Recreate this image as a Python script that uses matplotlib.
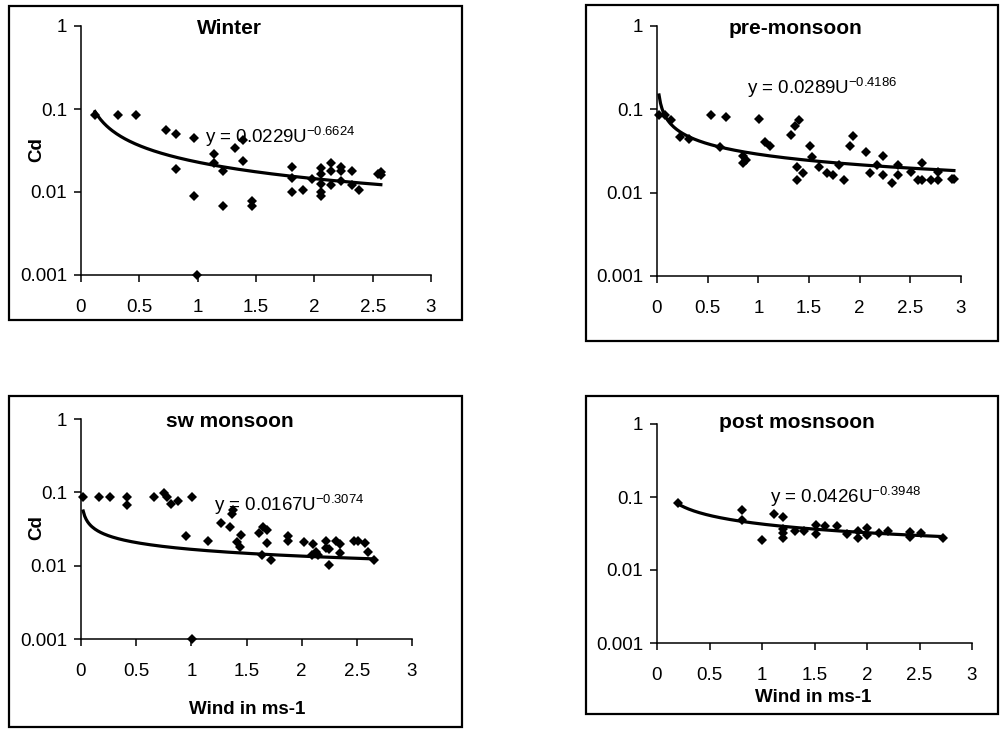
import numpy as np
import matplotlib
matplotlib.use("Agg")
import matplotlib.pyplot as plt
from matplotlib.patches import Rectangle

plt.rcParams['font.family'] = ['Liberation Sans', 'DejaVu Sans']
plt.rcParams['mathtext.fontset'] = 'custom'
plt.rcParams['mathtext.rm'] = 'Liberation Sans'

# winter
win_u = [0.12, 0.32, 0.47, 0.73, 0.81, 0.81, 0.97, 0.97, 0.99, 1.14, 1.14, 1.22, 1.22,
         1.32, 1.39, 1.39, 1.47, 1.47, 1.81, 1.81, 1.81, 1.90, 1.98, 2.06, 2.06, 2.06,
         2.06, 2.06, 2.14, 2.14, 2.14, 2.23, 2.23, 2.23, 2.32, 2.32, 2.38, 2.55, 2.57, 2.57]
win_cd = [0.0845, 0.0845, 0.0845, 0.056, 0.0495, 0.019, 0.0446, 0.009, 0.001, 0.029, 0.0224,
          0.018, 0.0068, 0.034, 0.042, 0.0234, 0.0077, 0.0068, 0.020, 0.0147, 0.0099, 0.0106,
          0.0145, 0.0195, 0.0166, 0.0125, 0.0099, 0.0090, 0.0224, 0.0177, 0.012, 0.020, 0.0177,
          0.0134, 0.018, 0.012, 0.0106, 0.0166, 0.0175, 0.016]

# pre-monsoon
pre_u = [0.02, 0.08, 0.14, 0.23, 0.32, 0.53, 0.62, 0.68, 0.85, 0.85, 0.88, 1.01, 1.07, 1.12,
         1.32, 1.36, 1.40, 1.38, 1.38, 1.44, 1.51, 1.53, 1.60, 1.68, 1.74, 1.80, 1.85, 1.90,
         1.93, 2.06, 2.10, 2.17, 2.23, 2.23, 2.32, 2.38, 2.38, 2.51, 2.58, 2.62, 2.62, 2.70,
         2.77, 2.77, 2.91, 2.93]
pre_cd = [0.0845, 0.0845, 0.0755, 0.047, 0.0446, 0.0845, 0.035, 0.081, 0.0275, 0.0228, 0.025,
          0.077, 0.041, 0.036, 0.0495, 0.063, 0.074, 0.0203, 0.014, 0.017, 0.036, 0.0265, 0.0203,
          0.017, 0.0162, 0.0213, 0.014, 0.036, 0.048, 0.031, 0.017, 0.0213, 0.0275, 0.0162, 0.013,
          0.0213, 0.0162, 0.0177, 0.0143, 0.0224, 0.0143, 0.014, 0.014, 0.0177, 0.0147, 0.0147]

# sw monsoon
sw_u = [0.02, 0.16, 0.26, 0.42, 0.42, 0.66, 0.75, 0.78, 0.82, 0.88, 1.01, 0.95, 1.15, 1.27,
        1.35, 1.37, 1.38, 1.41, 1.44, 1.45, 1.61, 1.65, 1.69, 1.69, 1.64, 1.72, 1.88, 1.88,
        2.02, 2.10, 2.09, 2.15, 2.22, 2.22, 2.25, 2.25, 2.31, 2.35, 2.35, 2.47, 2.51, 2.57,
        2.60, 2.66, 2.13, 1.01]
sw_cd = [0.0865, 0.0865, 0.0865, 0.0865, 0.0667, 0.0865, 0.098, 0.0865, 0.069, 0.076, 0.0865,
         0.025, 0.0218, 0.038, 0.034, 0.050, 0.057, 0.0207, 0.018, 0.026, 0.0276, 0.034, 0.031,
         0.0204, 0.0139, 0.012, 0.025, 0.022, 0.021, 0.0196, 0.014, 0.014, 0.0218, 0.0175,
         0.0103, 0.017, 0.0218, 0.0198, 0.0147, 0.0218, 0.0218, 0.0203, 0.0156, 0.012, 0.0156,
         0.001]

# post monsoon
post_u = [0.20, 0.81, 0.81, 1.00, 1.11, 1.20, 1.20, 1.20, 1.20, 1.31, 1.40, 1.51, 1.51, 1.60,
          1.71, 1.81, 1.91, 1.91, 2.00, 2.00, 2.11, 2.20, 2.41, 2.41, 2.51, 2.72]
post_cd = [0.084, 0.067, 0.049, 0.026, 0.059, 0.054, 0.036, 0.032, 0.0275, 0.0345, 0.0345,
           0.041, 0.031, 0.0395, 0.0395, 0.031, 0.0345, 0.0275, 0.0375, 0.030, 0.032, 0.0345,
           0.033, 0.028, 0.032, 0.0275]

titles = ['Winter', 'pre-monsoon', 'sw monsoon', 'post mosnsoon']
coef_a = [0.0229, 0.0289, 0.0167, 0.0426]
coef_b = [-0.6624, -0.4186, -0.3074, -0.3948]

W, H = 1000, 730
fig = plt.figure(figsize=(10, 7.3), dpi=100)


def fx(x):
    return x / W


def fy(y):
    return 1 - y / H


# frame boxes (left, top, right, bottom) in pixels
frames = [(9, 6, 462, 320), (586, 5, 998, 341), (9, 396, 462, 727), (586, 396, 998, 714)]
for l, t, r, b in frames:
    fig.patches.append(Rectangle((fx(l), fy(b)), fx(r - l), (b - t) / H, transform=fig.transFigure,
                                 fill=False, ec='black', lw=1.6))

# axes (x0, x3, y1, y0.001)
boxes = [(81, 431, 26, 275), (657, 961, 26, 276), (81, 412, 419, 639), (657, 972, 424, 643)]
data = [(win_u, win_cd), (pre_u, pre_cd), (sw_u, sw_cd), (post_u, post_cd)]
title_pos = [(229, 29), (795, 28), (230, 422), (797, 423)]
eq_pos = [(205, 143), (747, 94), (214, 511), (770, 503)]

for i, (x0, x3, y1, y0) in enumerate(boxes):
    ax = fig.add_axes([fx(x0), fy(y0), (x3 - x0) / W, (y0 - y1) / H])
    u, cd = data[i]
    ax.plot(u, cd, 'D', color='black', ms=4.8, mew=0, clip_on=False)
    uu = np.linspace(min(u), max(u), 200)
    ax.plot(uu, coef_a[i] * uu ** coef_b[i], color='black', lw=2.3, clip_on=False)
    ax.set_yscale('log')
    ax.set_ylim(0.001, 1)
    ax.set_xlim(0, 3)
    ax.set_yticks([0.001, 0.01, 0.1, 1])
    ax.set_yticklabels(['0.001', '0.01', '0.1', '1'])
    ax.minorticks_off()
    ax.set_xticks([0, 0.5, 1, 1.5, 2, 2.5, 3])
    ax.set_xticklabels(['0', '0.5', '1', '1.5', '2', '2.5', '3'])
    ax.patch.set_alpha(0)
    for s in ['top', 'right']:
        ax.spines[s].set_visible(False)
    for s in ['left', 'bottom']:
        ax.spines[s].set_linewidth(1.1)
    ax.tick_params(axis='both', direction='out', length=5, width=1.1, labelsize=13.5)
    ax.tick_params(axis='y', pad=5)
    ax.tick_params(axis='x', pad=12)

    fig.text(fx(title_pos[i][0]), fy(title_pos[i][1]), titles[i], ha='center', va='center',
             fontsize=15, fontweight='bold')
    eq = 'y = %.4fU$^{%.4f}$' % (coef_a[i], coef_b[i])
    fig.text(fx(eq_pos[i][0]), fy(eq_pos[i][1]), eq, ha='left', va='baseline', fontsize=13.5)

fig.text(fx(37), fy(150), 'Cd', rotation=90, ha='center', va='center', fontsize=13.5, fontweight='bold')
fig.text(fx(37), fy(528), 'Cd', rotation=90, ha='center', va='center', fontsize=13.5, fontweight='bold')
fig.text(fx(247), fy(710), 'Wind in ms-1', ha='center', va='center', fontsize=13.5, fontweight='bold')
fig.text(fx(813), fy(697), 'Wind in ms-1', ha='center', va='center', fontsize=13.5, fontweight='bold')

fig.savefig("out.png", dpi=100)
